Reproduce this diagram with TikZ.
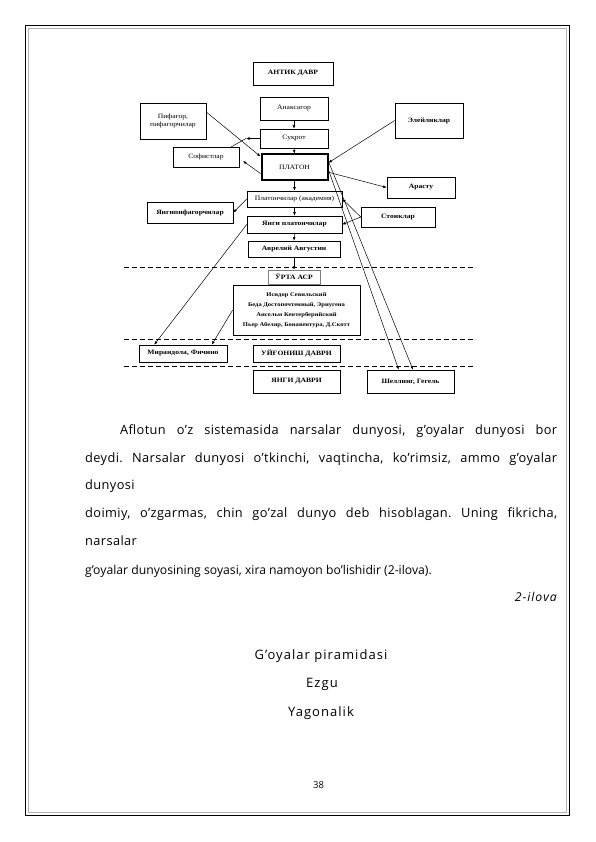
\documentclass[tikz,border=0pt]{standalone}
\usepackage{fontspec}
\usepackage{graphicx}
\setmainfont{Open Sans}
\newfontfamily\boxfont[FakeStretch=1.15]{Liberation Serif}
\usetikzlibrary{arrows.meta}
\frenchspacing
\tikzset{
  bx/.style={draw, line width=0.6pt, inner sep=0pt, align=center,
    font=\boxfont\fontsize{6.6}{8}\selectfont\bfseries},
  lbx/.style={bx, font=\boxfont\fontsize{6.6}{8}\selectfont},
  arr/.style={-{Latex[length=3.5pt,width=2.8pt]}, line width=0.5pt},
  ln/.style={line width=0.5pt},
  sep/.style={dash pattern=on 5pt off 3pt, line width=0.85pt},
  body/.style={anchor=base west, inner sep=0pt, font=\fontsize{12.8}{14}\selectfont\addfontfeatures{LetterSpace=3}},
  lastline/.style={anchor=base west, inner sep=0pt, font=\fontsize{12.2}{14}\selectfont},
  cbody/.style={anchor=base, inner sep=0pt, font=\fontsize{13}{15}\selectfont\addfontfeatures{LetterSpace=8}}
}
\begin{document}
\begin{tikzpicture}[x=1pt,y=-1pt]
\useasboundingbox (0,0) rectangle (595,842);
% page frame
\draw[line width=1.8pt] (25.5,25.5) rectangle (569.5,815.5);
\draw[gray!60, line width=1pt] (28.2,28.2) rectangle (566.8,812.8);

% boxes
\node[bx, minimum width=80pt, minimum height=23pt] (antik) at (293,73.5) {АНТИК ДАВР};
\node[lbx, minimum width=68pt, minimum height=23pt] (anaks) at (294,108.5) {Анаксагор};
\node[lbx, minimum width=66pt, minimum height=36pt] (pif) at (173,121) {Пифагор,\\пифагорчилар};
\node[lbx, minimum width=68pt, minimum height=19pt] (suqrot) at (294,138.5) {Суқрот};
\node[lbx, minimum width=66pt, minimum height=20pt] (sofist) at (206,157) {Софистлар};
\node[lbx, line width=2pt, minimum width=66pt, minimum height=26pt] (platon) at (294.5,167.5) {ПЛАТОН};
\node[bx, minimum width=68pt, minimum height=35pt] (eley) at (429,120.5) {Элейликлар};
\node[bx, minimum width=68pt, minimum height=21pt] (arastu) at (421,187.5) {Арасту};
\node[lbx, minimum width=95pt, minimum height=16pt] (platonch) at (294.5,199) {Платончилар (академия)};
\node[bx, minimum width=86pt, minimum height=21pt] (yangipif) at (190,212.5) {Янгипифагорчилар};
\node[bx, minimum width=74pt, minimum height=20pt] (stoik) at (398,217) {Стоиклар};
\node[bx, minimum width=95pt, minimum height=17pt] (yangiplat) at (294.5,224.5) {Янги платончилар};
\node[bx, minimum width=92pt, minimum height=16pt] (avrel) at (294,249) {Аврелий Августин};
\node[bx, draw=gray, line width=0.4pt, minimum width=52pt, minimum height=14pt] (orta) at (294,277) {ЎРТА АСР};
\node[bx, minimum width=127pt, minimum height=50pt, font=\boxfont\fontsize{5.7}{10}\selectfont\bfseries] (medieval) at (296.5,310)
  {Исидор Севильский\\Беда Достопочтенный, Эриугена\\Ансельм Кентерберийский\\Пьер Абеляр, Бонавентура, Д.Скотт};
\node[bx, minimum width=88pt, minimum height=17pt] (miran) at (183,353.5) {Мирандола, Фичино};
\node[bx, minimum width=87pt, minimum height=17pt] (uygon) at (296.5,353.5) {УЙҒОНИШ ДАВРИ};
\node[bx, minimum width=87pt, minimum height=23pt] (yangidavr) at (296.5,381.5) {ЯНГИ ДАВРИ};
\node[bx, minimum width=87pt, minimum height=23pt] (shelling) at (410.5,381.5) {Шеллинг, Гегель};

% period separators
\coordinate (d1l) at (124,267); \coordinate (d1r) at (476,267);
\coordinate (d2l) at (124,339); \coordinate (d2r) at (476,339);
\coordinate (d3l) at (124,366); \coordinate (d3r) at (476,366);
\draw[sep] (d1l) -- (d1r);
\draw[sep] (d2l) -- (d2r);
\draw[sep] (d3l) -- (d3r);

% vertical chain
\draw[arr] (anaks.south) -- (suqrot.north);
\draw[arr] (suqrot.south) -- (platon.north);
\draw[arr] (platon.south) -- (platonch.north);
\draw[arr] (platonch.south) -- (yangiplat.north);
\draw[arr] (yangiplat.south) -- (avrel.north);
\draw[arr] (avrel.south) -- (orta.north);

% side connectors
\draw[arr] (pif.15) -- (platon.162);
\coordinate (sofA) at (231,147);
\coordinate (sofB) at (246,138.5);
\draw[ln] (sofA) -- (sofB);
\draw[arr] (suqrot.west) -- (sofB);
\coordinate (sofC) at (243,161);
\draw[arr] (platon.190) -- (sofC);
\draw[arr] (eley.west) -- (platon.8);
\draw[arr] (platon.-8) -- (arastu.west);
\draw[arr] (stoik.west) -- (platonch.east);
\draw[arr] (stoik.west) -- (yangiplat.east);
\draw[arr] (platonch.west) -- (yangipif.east);
\draw[arr] (yangiplat.west) -- (miran.163);
\draw[arr] (medieval.west) -- (miran.17.5);
\draw[arr] (platon.-4) -- (shelling.135);
\draw[arr] (platon.10) -- (shelling.78);

% text
\node[body] (p1) at (120,434) {\makebox[437pt][s]{Aflotun o’z sistemasida narsalar dunyosi, g’oyalar dunyosi bor}};
\node[body] (p2) at (85,462) {\makebox[472pt][s]{deydi. Narsalar dunyosi o’tkinchi, vaqtincha, ko’rimsiz, ammo g’oyalar}};
\node[body] (p3) at (85,489) {dunyosi};
\node[body] (p4) at (85,517) {\makebox[472pt][s]{doimiy, o’zgarmas, chin go’zal dunyo deb hisoblagan. Uning fikricha,}};
\node[body] (p5) at (85,545) {narsalar};
\node[lastline] (p6) at (85,574) {g’oyalar dunyosining soyasi, xira namoyon bo’lishidir (2-ilova).};
\node[anchor=base east, inner sep=0pt, font=\fontsize{12.2}{14}\selectfont\itshape\addfontfeatures{LetterSpace=8}] (ilova) at (557,601) {2-ilova};
\node[cbody] (t1) at (321,659) {G’oyalar piramidasi};
\node[cbody] (t2) at (322,687) {Ezgu};
\node[cbody] (t3) at (321,716) {Yagonalik};
\node[anchor=base, inner sep=0pt, font=\fontsize{9.5}{11}\selectfont] (pg) at (318.5,788) {38};
\end{tikzpicture}
\end{document}
